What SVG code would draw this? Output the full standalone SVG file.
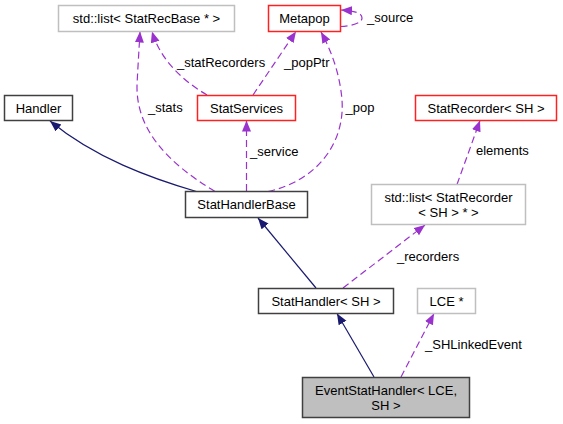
<svg xmlns="http://www.w3.org/2000/svg" width="563" height="424" viewBox="0 0 563 424">
<style>
text{font-family:"Liberation Sans",Arial,sans-serif;font-size:13px;fill:#000}
.n text{text-anchor:middle}
.blk{fill:#fff;stroke:#404040;stroke-width:1.5}
.red{fill:#fff;stroke:#ff2020;stroke-width:1.5}
.gry{fill:#fff;stroke:#bfbfbf;stroke-width:1.5}
.cur{fill:#bfbfbf;stroke:#404040;stroke-width:1.5}
.inh{fill:none;stroke:#191970;stroke-width:1.2;marker-end:url(#an)}
.use{fill:none;stroke:#9a32cd;stroke-width:1.2;stroke-dasharray:7,4;marker-end:url(#ap)}
</style>
<defs>
<marker id="an" markerUnits="userSpaceOnUse" markerWidth="12" markerHeight="10" refX="11" refY="4.5" orient="auto"><path d="M0,0 L11,4.5 L0,9 z" fill="#191970"/></marker>
<marker id="ap" markerUnits="userSpaceOnUse" markerWidth="12" markerHeight="10" refX="11" refY="4.5" orient="auto"><path d="M0,0 L11,4.5 L0,9 z" fill="#9a32cd"/></marker>
</defs>
<g id="edges">
<path class="inh" d="M198,192 C150,178 95,158 50,121"/>
<path class="inh" d="M316,288 L258,218"/>
<path class="inh" d="M374,377 L337,313.5"/>
<path class="use" d="M401,377 L434,313.5"/>
<path class="use" d="M343,288 L425,225"/>
<path class="use" d="M457,184.5 L480,120.5"/>
<path class="use" d="M246.5,191 L246.5,120.5"/>
<path class="use" d="M215,191.5 C168,163 136,130 137,85 C138,65 139,50 140,31.5"/>
<path class="use" d="M207,95 C190,85 162,65 152,31.5"/>
<path class="use" d="M253,95 L296,31.5"/>
<path class="use" d="M268,191.5 C320,180 345,140 342,100 C340,75 332,52 321,32"/>
<path class="use" d="M340.5,26.5 C352,26 362,23 362,18 C362,13 356,11 341,10"/>
<text x="177" y="67">_statRecorders</text>
<text x="284" y="67">_popPtr</text>
<text x="367" y="22">_source</text>
<text x="148" y="112">_stats</text>
<text x="345.5" y="112">_pop</text>
<text x="250" y="156">_service</text>
<text x="476" y="155">elements</text>
<text x="397" y="261">_recorders</text>
<text x="425" y="349">_SHLinkedEvent</text>
</g>
<g id="n_statrecbase" class="n"><rect class="gry" x="58.5" y="5.5" width="176" height="26"/><text x="146.5" y="23">std::list&lt; StatRecBase * &gt;</text></g>
<g id="n_metapop" class="n"><rect class="red" x="268.5" y="5.5" width="72" height="26"/><text x="304.5" y="23">Metapop</text></g>
<g id="n_handler" class="n"><rect class="blk" x="4.5" y="95.5" width="68" height="25"/><text x="38.5" y="112.5">Handler</text></g>
<g id="n_statservices" class="n"><rect class="red" x="197.5" y="95.5" width="98" height="25"/><text x="246.5" y="112.5">StatServices</text></g>
<g id="n_statrecorder" class="n"><rect class="red" x="415.5" y="95.5" width="141" height="25"/><text x="486" y="112.5">StatRecorder&lt; SH &gt;</text></g>
<g id="n_stathandlerbase" class="n"><rect class="blk" x="185.5" y="191.5" width="122" height="26"/><text x="246.5" y="209">StatHandlerBase</text></g>
<g id="n_listrecorder" class="n"><rect class="gry" x="371.5" y="184.5" width="154" height="40"/><text x="448.5" y="202">std::list&lt; StatRecorder</text><text x="448.5" y="217">&lt; SH &gt; * &gt;</text></g>
<g id="n_stathandler" class="n"><rect class="blk" x="258.5" y="288.5" width="135" height="25"/><text x="326" y="305.5">StatHandler&lt; SH &gt;</text></g>
<g id="n_lce" class="n"><rect class="gry" x="417.5" y="288.5" width="58" height="25"/><text x="446.5" y="305.5">LCE *</text></g>
<g id="n_eventstathandler" class="n"><rect class="cur" x="302.5" y="377.5" width="167" height="40"/><text x="386" y="395">EventStatHandler&lt; LCE,</text><text x="386" y="410">SH &gt;</text></g>
</svg>
